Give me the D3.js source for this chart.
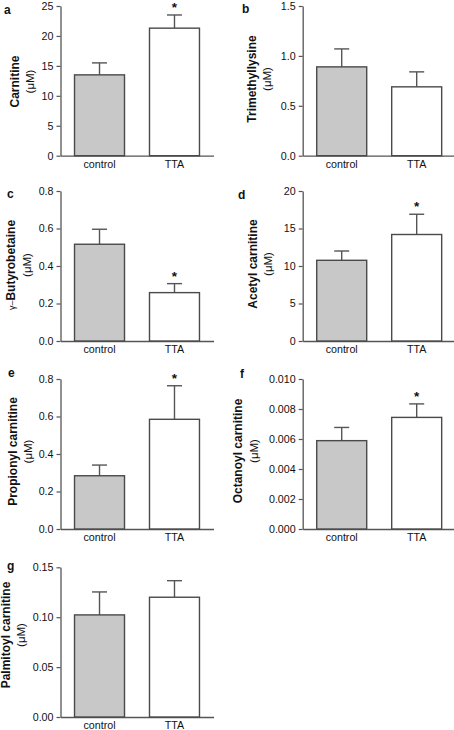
<!DOCTYPE html>
<html><head><meta charset="utf-8">
<script src="https://cdn.jsdelivr.net/npm/d3@7"></script>
<style>
html,body{margin:0;padding:0;background:#fff;}
svg{display:block;font-family:Arial,"Liberation Sans",Helvetica,sans-serif;}
</style></head>
<body><svg id="chart" width="454" height="730"></svg>
<script>
// ---- data ----
const categories = ["control", "TTA"];
const panelLetters = ["a", "b", "c", "d", "e", "f", "g"];
const measures = ["Carnitine", "Trimethyllysine", "γ–Butyrobetaine", "Acetyl carnitine", "Propionyl carnitine", "Octanoyl carnitine", "Palmitoyl carnitine"];
const unitLabel = "(μM)";
const controlMeans = [13.5, 0.89, 0.516, 10.76, 0.284, 0.00589, 0.1023];
const controlErrors = [2.0, 0.18, 0.08, 1.24, 0.057, 0.00088, 0.023];
const ttaMeans = [21.3, 0.69, 0.258, 14.2, 0.585, 0.00744, 0.12];
const ttaErrors = [2.2, 0.15, 0.048, 2.7, 0.179, 0.0009, 0.0166];
const yMax = [25, 1.5, 0.8, 20, 0.8, 0.010, 0.15];
const yStep = [5, 0.5, 0.2, 5, 0.2, 0.002, 0.05];
const tickFormats = ["d", ".1f", ".1f", "d", ".1f", ".3f", ".2f"];
const significant = [true, false, true, true, true, true, false];

// ---- layout ----
const colX = [60.5, 302.7];
const rows = [[6, 155.7], [191, 341], [379, 529], [567.3, 717]];
const plotW = 153;
const fills = {control: "#c8c8c8", TTA: "#ffffff"};
const letterPos = [[4, 14], [242, 13], [7, 198], [238, 199], [8, 377], [240, 378], [7, 570]];
const titleX1 = [15, 251.7, 11, 253, 13, 238, 6];
const titleX2 = [30, 266.7, 27, 268, 28, 253.5, 21];
const titleCY = [81.5, 79, 265, 264, 451.5, 451, 635];

const svg = d3.select("#chart");

panelLetters.forEach((letter, i) => {
  const col = i % 2, row = Math.floor(i / 2);
  const ax = colX[col];
  const [top, bottom] = rows[row];
  const g = svg.append("g");

  const x = d3.scaleBand().domain(categories).range([ax, ax + plotW])
    .paddingInner(1/3).paddingOuter(0.187);
  const y = d3.scaleLinear().domain([0, yMax[i]]).range([bottom, top]);
  const ticks = d3.range(0, yMax[i] + yStep[i] / 2, yStep[i]);

  // y axis
  const yAxis = d3.axisLeft(y).tickValues(ticks).tickFormat(d3.format(tickFormats[i]))
    .tickSizeOuter(0).tickSizeInner(4).tickPadding(3);
  const yg = g.append("g").attr("transform", `translate(${ax},0)`).call(yAxis);
  yg.select(".domain").attr("stroke", "#555").attr("stroke-width", 1.3);
  yg.selectAll(".tick line").attr("stroke", "#555").attr("stroke-width", 1.2);
  yg.selectAll(".tick text").attr("font-size", 10.7).attr("fill", "#111")
    .attr("font-family", "Arial,'Liberation Sans',sans-serif");

  // x axis
  const xAxis = d3.axisBottom(x).tickSize(0).tickPadding(4.5);
  const xg = g.append("g").attr("transform", `translate(0,${bottom})`).call(xAxis);
  xg.select(".domain").attr("stroke", "#555").attr("stroke-width", 1.3);
  xg.selectAll(".tick text").attr("font-size", 10.7).attr("fill", "#111")
    .attr("font-family", "Arial,'Liberation Sans',sans-serif");

  const rowsData = [
    {cat: "control", mean: controlMeans[i], err: controlErrors[i]},
    {cat: "TTA", mean: ttaMeans[i], err: ttaErrors[i]}
  ];

  // error bars (upper only)
  rowsData.forEach(d => {
    const cx = x(d.cat) + x.bandwidth() / 2;
    g.append("line").attr("x1", cx).attr("x2", cx)
      .attr("y1", y(d.mean)).attr("y2", y(d.mean + d.err))
      .attr("stroke", "#555").attr("stroke-width", 1.4);
    g.append("line").attr("x1", cx - 7.5).attr("x2", cx + 7.5)
      .attr("y1", y(d.mean + d.err)).attr("y2", y(d.mean + d.err))
      .attr("stroke", "#555").attr("stroke-width", 1.4);
  });

  // bars
  g.selectAll("rect.bar").data(rowsData).join("rect")
    .attr("x", d => x(d.cat)).attr("width", x.bandwidth())
    .attr("y", d => y(d.mean)).attr("height", d => bottom - y(d.mean))
    .attr("fill", d => fills[d.cat]).attr("stroke", "#4a4a4a").attr("stroke-width", 1.4);

  // significance star
  if (significant[i]) {
    const d = rowsData[1];
    g.append("text").attr("x", x(d.cat) + x.bandwidth() / 2)
      .attr("y", y(d.mean + d.err) - 3)
      .attr("text-anchor", "middle").attr("font-size", 13.5).attr("font-weight", "bold")
      .attr("fill", "#111").text("*");
  }

  // panel letter
  g.append("text").attr("x", letterPos[i][0]).attr("y", letterPos[i][1])
    .attr("font-size", 12).attr("font-weight", "bold").attr("fill", "#111").text(letter);

  // y title (two lines)
  const cy = titleCY[i];
  const t1 = g.append("text").attr("transform", `translate(${titleX1[i] + 4.3},${cy}) rotate(-90)`)
    .attr("text-anchor", "middle").attr("font-size", 12).attr("fill", "#111");
  if (measures[i].startsWith("γ")) {
    t1.append("tspan").attr("font-weight", "normal").attr("font-size", 9).text("γ–");
    t1.append("tspan").attr("font-weight", "bold").text(measures[i].slice(2));
  } else {
    t1.attr("font-weight", "bold").text(measures[i]);
  }
  g.append("text").attr("transform", `translate(${titleX2[i] + 4},${cy}) rotate(-90)`)
    .attr("text-anchor", "middle").attr("font-size", 11.5).attr("fill", "#111").text(unitLabel);
});
</script></body></html>
